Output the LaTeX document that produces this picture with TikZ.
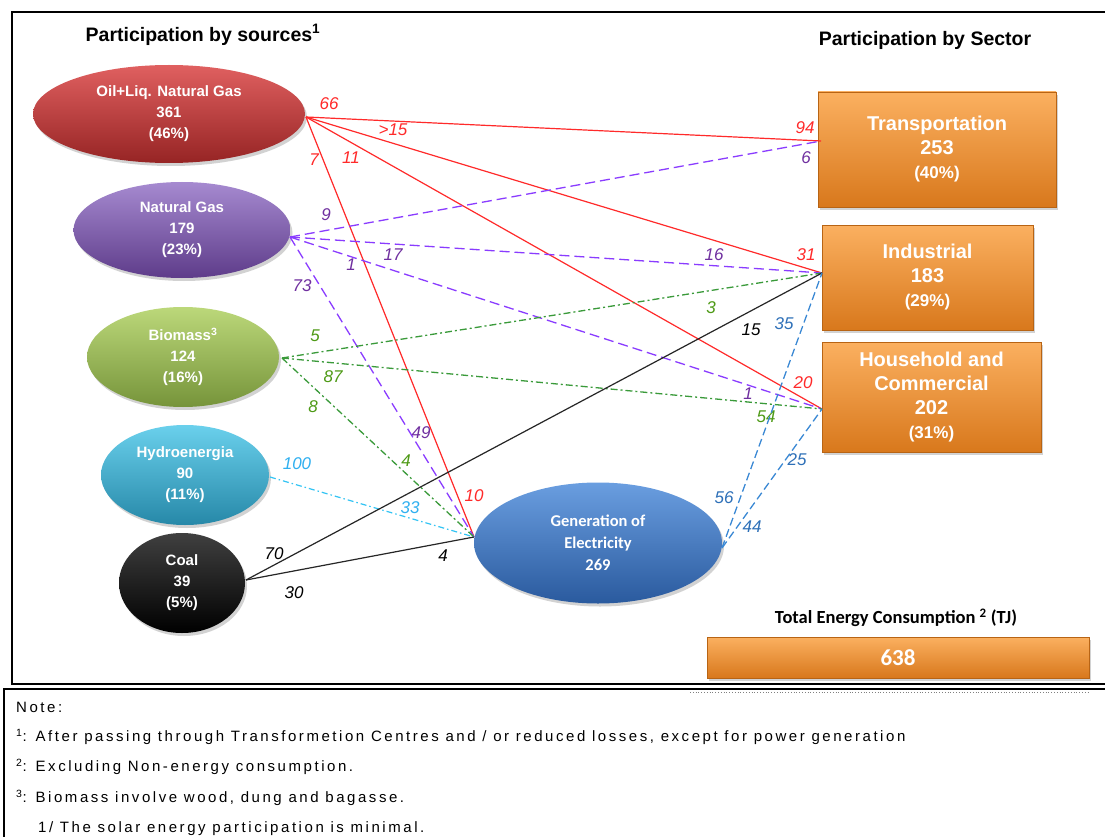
\documentclass[tikz,border=0pt]{standalone}
\usepackage{fontspec}
\setmainfont{Liberation Sans}
\newfontfamily\calfont{Carlito}
\usetikzlibrary{shapes.geometric,shadows}
\definecolor{cRed}{HTML}{FF2A2A}
\definecolor{cVio}{HTML}{8A3CFF}
\definecolor{cVioT}{HTML}{7030A0}
\definecolor{cGrn}{HTML}{3A9A3A}
\definecolor{cGrnT}{HTML}{4E9A16}
\definecolor{cHyd}{HTML}{33C4F4}
\definecolor{cHydT}{HTML}{30B0F0}
\definecolor{cBlu}{HTML}{3A88D4}
\definecolor{cBluT}{HTML}{2E70B8}
\definecolor{oilA}{HTML}{E06060}\definecolor{oilB}{HTML}{C23A3A}\definecolor{oilC}{HTML}{962424}
\definecolor{ngA}{HTML}{A68AD0}\definecolor{ngB}{HTML}{7E5AAE}\definecolor{ngC}{HTML}{5E3C8A}
\definecolor{bioA}{HTML}{BCD87A}\definecolor{bioB}{HTML}{9CBB55}\definecolor{bioC}{HTML}{76943A}
\definecolor{hydA}{HTML}{6AD0EC}\definecolor{hydB}{HTML}{3AB0D4}\definecolor{hydC}{HTML}{2688A8}
\definecolor{genA}{HTML}{6A9EE0}\definecolor{genB}{HTML}{3E7ACA}\definecolor{genC}{HTML}{2A5A9E}
\definecolor{orA}{HTML}{FBB060}\definecolor{orB}{HTML}{F7963A}\definecolor{orC}{HTML}{D8781C}
\definecolor{orD}{HTML}{B86414}
\tikzset{
  src/.style={ellipse, inner sep=0pt, text=white, align=center,
    font=\fontsize{15}{21}\selectfont\bfseries,
    drop shadow={shadow xshift=2pt, shadow yshift=-3pt, opacity=0.35}},
  sec/.style={rectangle, inner sep=0pt, text=white, align=center,
    draw=orD, line width=0.6pt, top color=orA, middle color=orB, bottom color=orC,
    font=\fontsize{20}{24}\selectfont\bfseries,
    drop shadow={shadow xshift=2pt, shadow yshift=-3pt, opacity=0.35}},
  lab/.style={font=\fontsize{17}{17}\selectfont\itshape, inner sep=0pt},
  redline/.style={cRed, line width=1.2pt},
  violine/.style={cVio, line width=1.3pt, dash pattern=on 10pt off 5pt},
  grnline/.style={cGrn, line width=1.3pt, dash pattern=on 7pt off 3pt on 2pt off 3pt},
  hydline/.style={cHyd, line width=1.2pt, dash pattern=on 6pt off 3pt on 1.5pt off 3pt},
  coalline/.style={black!85, line width=1.2pt},
  genline/.style={cBlu, line width=1.3pt, dash pattern=on 8pt off 4pt},
  note/.style={anchor=west, inner sep=0pt,
    font=\fontsize{15}{15}\selectfont\addfontfeatures{LetterSpace=17}},
  ttl/.style={font=\fontsize{19.5}{20}\selectfont\bfseries, inner sep=0pt}
}
\begin{document}
\begin{tikzpicture}[x=1pt,y=-1pt]
\useasboundingbox (0,0) rectangle (1105,837);
\fill[white] (0,0) rectangle (1105,837);
% frames
\draw[line width=1.6pt] (1110,12) -- (12,12) -- (12,684) -- (1110,684);
\draw[line width=1.6pt] (1110,689) -- (4,689) -- (4,845);
\draw[gray, dotted, line width=0.8pt] (690,692) -- (1090,692);
% titles
\node[ttl] (t1) at (203,35) {Participation by sources\textsuperscript{1}};
\node[ttl] (t2) at (925,40) {Participation by Sector};
% sources
\node[src, minimum width=272pt, minimum height=98pt, top color=oilA, middle color=oilB, bottom color=oilC] (oil) at (169,114) {Oil+Liq. Natural Gas\\361\\(46\%)};
\node[src, minimum width=217pt, minimum height=96pt, top color=ngA, middle color=ngB, bottom color=ngC] (ng) at (182,230) {Natural Gas\\179\\(23\%)};
\node[src, minimum width=192pt, minimum height=100pt, top color=bioA, middle color=bioB, bottom color=bioC] (bio) at (183,357) {Biomass\textsuperscript{3}\\124\\(16\%)};
\node[src, minimum width=168pt, minimum height=100pt, top color=hydA, middle color=hydB, bottom color=hydC] (hyd) at (185,475) {Hydroenergia\\90\\(11\%)};
\node[src, minimum width=126pt, minimum height=100pt, top color=black!75, middle color=black, bottom color=black] (coal) at (182,583) {Coal\\39\\(5\%)};
\node[src, minimum width=248pt, minimum height=121pt, top color=genA, middle color=genB, bottom color=genC, font=\calfont\fontsize{16.5}{22}\selectfont\bfseries] (gen) at (598,543) {Generation of\\Electricity\\269};
% sectors
\node[sec, minimum width=238pt, minimum height=115pt] (tra) at (937,149.5) {Transportation\\253\\{\fontsize{17}{22}\selectfont(40\%)}};
\node[sec, minimum width=211pt, minimum height=105pt] (ind) at (927.5,277.5) {Industrial\\183\\{\fontsize{17}{22}\selectfont(29\%)}};
\node[sec, minimum width=219pt, minimum height=110pt] (hou) at (931.5,397) {Household and\\Commercial\\202\\{\fontsize{17}{21}\selectfont(31\%)}};
\node[font=\calfont\fontsize{18.5}{18.5}\selectfont\bfseries, inner sep=0pt] (tot) at (896,618) {Total Energy Consumption \textsuperscript{2} (TJ)};
\node[sec, minimum width=382pt, minimum height=41pt, font=\calfont\fontsize{23}{23}\selectfont\bfseries] (totb) at (898,657.5) {638};
% ports
\coordinate (oilP) at (306,117);
\coordinate (ngP) at (290,237);
\coordinate (bioP) at (282,358);
\coordinate (hydP) at (270,477);
\coordinate (coalP) at (246,580);
\coordinate (genL) at (474,537);
\coordinate (genR) at (722,548);
\coordinate (traP) at (821,141);
\coordinate (indP) at (822,273);
\coordinate (houP) at (822,409);
% oil
\draw[redline] (oilP) -- (traP) node[lab,text=cRed] at (329,104) {66} node[lab,text=cRed] at (805,128) {94};
\draw[redline] (oilP) -- (indP) node[lab,text=cRed] at (393,130) {>15} node[lab,text=cRed] at (806,255) {31};
\draw[redline] (oilP) -- (houP) node[lab,text=cRed] at (351,158) {11} node[lab,text=cRed] at (803,383) {20};
\draw[redline] (oilP) -- (genL) node[lab,text=cRed] at (314,160) {7} node[lab,text=cRed] at (474,496) {10};
% natural gas
\draw[violine] (ngP) -- (traP) node[lab,text=cVioT] at (326,215) {9} node[lab,text=cVioT] at (806,158) {6};
\draw[violine] (ngP) -- (indP) node[lab,text=cVioT] at (393,255) {17} node[lab,text=cVioT] at (714,255) {16};
\draw[violine] (ngP) -- (houP) node[lab,text=cVioT] at (351,265) {1} node[lab,text=cVioT] at (748,394) {1};
\draw[violine] (ngP) -- (genL) node[lab,text=cVioT] at (302,286) {73} node[lab,text=cVioT] at (421,433) {49};
% biomass
\draw[grnline] (bioP) -- (indP) node[lab,text=cGrnT] at (315,336) {5} node[lab,text=cGrnT] at (711,308) {3};
\draw[grnline] (bioP) -- (houP) node[lab,text=cGrnT] at (333,377) {87} node[lab,text=cGrnT] at (766,417) {54};
\draw[grnline] (bioP) -- (genL) node[lab,text=cGrnT] at (313,407) {8} node[lab,text=cGrnT] at (406,461) {4};
% hydro
\draw[hydline] (hydP) -- (genL) node[lab,text=cHydT] at (297,464) {100} node[lab,text=cHydT] at (410,508) {33};
% coal
\draw[coalline] (coalP) -- (indP) node[lab,text=black] at (274,554) {70} node[lab,text=black] at (751,330) {15};
\draw[coalline] (coalP) -- (genL) node[lab,text=black] at (294,593) {30} node[lab,text=black] at (443,556) {4};
% generation
\draw[genline] (genR) -- (indP) node[lab,text=cBluT] at (724,498) {56} node[lab,text=cBluT] at (784,324) {35};
\draw[genline] (genR) -- (houP) node[lab,text=cBluT] at (752,527) {44} node[lab,text=cBluT] at (797,460) {25};
% notes
\node[note] (n0) at (16,707) {Note:};
\node[note] (n1) at (16,737) {\textsuperscript{1}: After passing through Transformetion Centres and / or reduced losses, except for power generation};
\node[note] (n2) at (16,767) {\textsuperscript{2}: Excluding Non-energy consumption.};
\node[note] (n3) at (16,798) {\textsuperscript{3}: Biomass involve wood, dung and bagasse.};
\node[note] (n4) at (38,829) {1/ The solar energy participation is minimal.};
\end{tikzpicture}
\end{document}
